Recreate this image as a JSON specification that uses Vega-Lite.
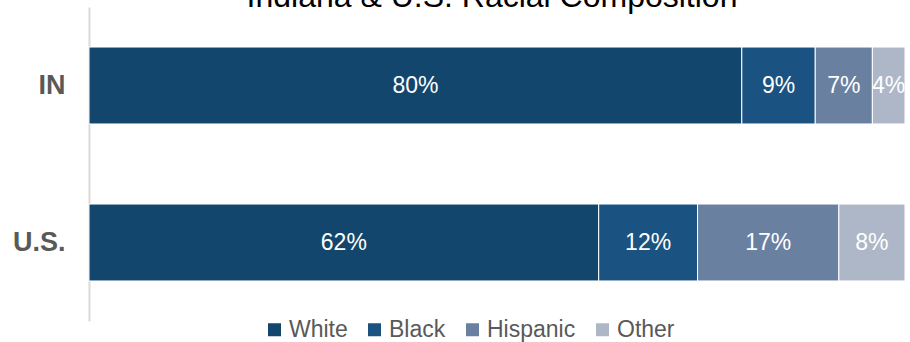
{
  "$schema": "https://vega.github.io/schema/vega-lite/v6.json",
  "autosize": {"type": "none"},
  "width": 816,
  "height": 314,
  "padding": {"left": 89, "top": 7, "right": 5, "bottom": 21},
  "background": "white",
  "config": {"view": {"stroke": null}, "font": "Liberation Sans"},
  "title": {
    "text": "Indiana & U.S. Racial Composition",
    "font": "Liberation Sans",
    "fontSize": 32,
    "fontWeight": "normal",
    "color": "#000000",
    "anchor": "middle",
    "offset": -7,
    "dx": -5
  },
  "data": {
    "values": [
      {"region": "IN", "race": "White", "share": 0.80},
      {"region": "IN", "race": "Black", "share": 0.09},
      {"region": "IN", "race": "Hispanic", "share": 0.07},
      {"region": "IN", "race": "Other", "share": 0.04},
      {"region": "U.S.", "race": "White", "share": 0.624},
      {"region": "U.S.", "race": "Black", "share": 0.121},
      {"region": "U.S.", "race": "Hispanic", "share": 0.173},
      {"region": "U.S.", "race": "Other", "share": 0.081}
    ]
  },
  "transform": [
    {"window": [{"op": "row_number", "as": "idx"}]}
  ],
  "encoding": {
    "y": {
      "field": "region",
      "type": "nominal",
      "sort": ["IN", "U.S."],
      "scale": {"paddingInner": 0.51, "paddingOuter": 0.255},
      "axis": {
        "title": null,
        "ticks": false,
        "labelFont": "Liberation Sans",
        "labelFontSize": 27,
        "labelFontWeight": "bold",
        "labelColor": "#595959",
        "labelPadding": 24,
        "domainColor": "#d9d9d9",
        "domainWidth": 2
      }
    },
    "order": {"field": "idx", "type": "quantitative", "sort": "ascending"}
  },
  "layer": [
    {
      "mark": {"type": "bar", "stroke": "white", "strokeWidth": 1},
      "encoding": {
        "x": {
          "field": "share",
          "type": "quantitative",
          "stack": "normalize",
          "scale": {"domain": [0, 1], "nice": false},
          "axis": null
        },
        "color": {
          "field": "race",
          "type": "nominal",
          "sort": ["White", "Black", "Hispanic", "Other"],
          "scale": {
            "domain": ["White", "Black", "Hispanic", "Other"],
            "range": ["#13466c", "#1a5281", "#6a80a0", "#adb7c8"]
          },
          "legend": {
            "title": null,
            "orient": "none",
            "direction": "horizontal",
            "legendX": 174,
            "legendY": 311,
            "symbolType": "square",
            "symbolSize": 169,
            "symbolStrokeWidth": 0,
            "labelFont": "Liberation Sans",
            "labelFontSize": 23,
            "labelColor": "#595959",
            "labelOffset": 3,
            "columnPadding": 15
          }
        }
      }
    },
    {
      "mark": {"type": "text", "color": "white", "fontSize": 23, "font": "Liberation Sans", "align": "center", "baseline": "middle"},
      "encoding": {
        "x": {
          "field": "share",
          "type": "quantitative",
          "stack": "normalize",
          "bandPosition": 0.5
        },
        "detail": {"field": "race", "type": "nominal"},
        "text": {"field": "share", "type": "quantitative", "format": ".0%"}
      }
    }
  ]
}
